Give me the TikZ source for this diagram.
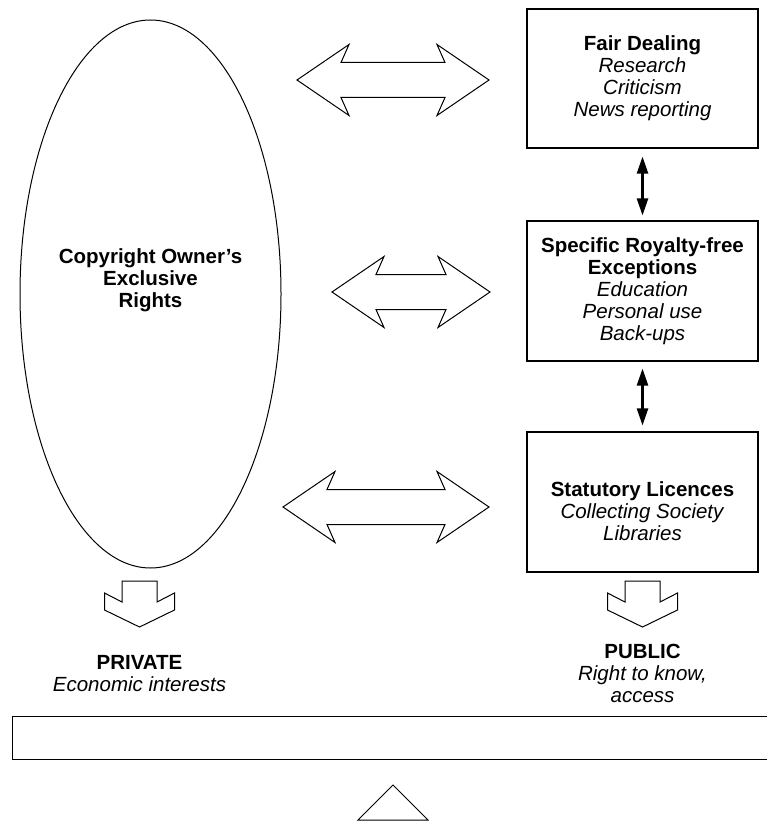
\documentclass[tikz,border=0pt]{standalone}
\usepackage{fontspec}
\setmainfont{Liberation Sans}
\usetikzlibrary{arrows.meta,shapes.geometric}

% hollow two-headed block arrow: left tip x, right tip x, mid y
\newcommand\blockdbl[3]{%
  \draw[outline] (#1,#3) -- ({#1+52},{#3-35.5}) -- ({#1+44},{#3-17.5})
    -- ({#2-44},{#3-17.5}) -- ({#2-52},{#3-35.5}) -- (#2,#3)
    -- ({#2-52},{#3+35.5}) -- ({#2-44},{#3+17.5})
    -- ({#1+44},{#3+17.5}) -- ({#1+52},{#3+35.5}) -- cycle;}
% hollow downward block arrow: centre x, top y
\newcommand\blockdown[2]{%
  \draw[outline] ({#1-17.5},#2) -- ({#1-17.5},{#2+21}) -- ({#1-35},{#2+12})
    -- ({#1-35},{#2+29}) -- (#1,{#2+46}) -- ({#1+35},{#2+29})
    -- ({#1+35},{#2+12}) -- ({#1+17.5},{#2+21}) -- ({#1+17.5},#2) -- cycle;}

\begin{document}
\begin{tikzpicture}[x=1pt,y=-1pt,
  outline/.style={draw=black, line width=1pt, line join=miter},
  box/.style={draw=black, line width=1.1pt, inner sep=0pt, minimum width=231pt},
  txt/.style={align=center, inner sep=0pt, font=\fontsize{20.5}{22}\selectfont},
  link/.style={line width=2.4pt,
    {Triangle[length=17pt,width=11pt]}-{Triangle[length=17pt,width=11pt]}},
]
\useasboundingbox (0,0) rectangle (767,821);
\clip (0,0) rectangle (767,821);

% rights holder
\node[ellipse, draw=black, line width=1pt, inner sep=0pt,
      minimum width=261pt, minimum height=548pt] (owner) at (150.5,294) {};
\node[txt] (ownertxt) at (150.5,280)
  {\textbf{Copyright Owner’s}\\\textbf{Exclusive}\\\textbf{Rights}};

% the three exceptions
\node[box, minimum height=139pt] (fair) at (642.5,78.5) {};
\node[txt] (fairtxt) at (fair.center)
  {\textbf{Fair Dealing}\\\textit{Research}\\\textit{Criticism}\\\textit{News reporting}};

\node[box, minimum height=140pt] (spec) at (642.5,291) {};
\node[txt] (spectxt) at (spec.center)
  {\textbf{Specific Royalty-free}\\\textbf{Exceptions}\\\textit{Education}\\\textit{Personal use}\\\textit{Back-ups}};

\node[box, minimum height=140pt] (stat) at (642.5,502) {};
\node[txt] (stattxt) at (642.5,511)
  {\textbf{Statutory Licences}\\\textit{Collecting Society}\\\textit{Libraries}};

\draw[link] ([yshift=-8pt]fair.south) -- ([yshift=5pt]spec.north);
\draw[link] ([yshift=-7pt]spec.south) -- ([yshift=6pt]stat.north);

% balance between owner and exceptions
\blockdbl{297}{489}{80}
\blockdbl{332}{490}{292}
\blockdbl{283}{489}{507}

% outcomes
\blockdown{139.5}{581}
\blockdown{642.5}{581}
\node[txt] (private) at (139.5,674) {\textbf{PRIVATE}\\\textit{Economic interests}};
\node[txt] (public) at (642.5,673) {\textbf{PUBLIC}\\\textit{Right to know,}\\\textit{access}};

% beam and fulcrum
\node[box, minimum width=760pt, minimum height=43pt, anchor=north west] (beam) at (12,716) {};
\draw[outline] (393,785) -- (428,820) -- (358,820) -- cycle;
\end{tikzpicture}
\end{document}
